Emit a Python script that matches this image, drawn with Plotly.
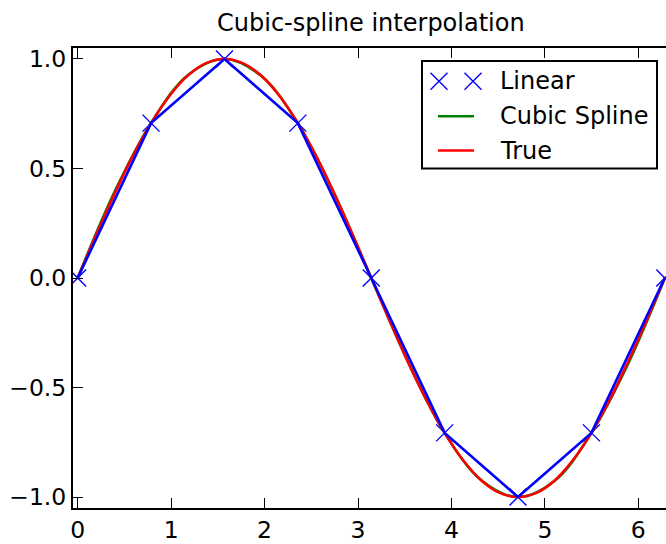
import plotly.graph_objects as go

# Sample nodes (x = 0 .. 2*pi in steps of pi/4) and their sine values
x_nodes = [0.0, 0.785, 1.571, 2.356, 3.142, 3.927, 4.712, 5.498, 6.283]
y_nodes = [0.0, 0.707, 1.0, 0.707, 0.0, -0.707, -1.0, -0.707, 0.0]

# Cubic spline through the nodes, evaluated at nodes and midpoints
x_spline = [0.0, 0.393, 0.785, 1.178, 1.571, 1.963, 2.356, 2.749, 3.142,
            3.534, 3.927, 4.320, 4.712, 5.105, 5.498, 5.890, 6.283]
y_spline = [0.0, 0.392, 0.707, 0.926, 1.0, 0.923, 0.707, 0.382, 0.0,
            -0.382, -0.707, -0.923, -1.0, -0.926, -0.707, -0.392, 0.0]

# True curve sampled every pi/16
x_true = [0.0, 0.196, 0.393, 0.589, 0.785, 0.982, 1.178, 1.374, 1.571,
          1.767, 1.963, 2.160, 2.356, 2.553, 2.749, 2.945, 3.142,
          3.338, 3.534, 3.731, 3.927, 4.123, 4.320, 4.516, 4.712,
          4.909, 5.105, 5.301, 5.498, 5.694, 5.890, 6.087, 6.283]
y_true = [0.0, 0.195, 0.383, 0.556, 0.707, 0.831, 0.924, 0.981, 1.0,
          0.981, 0.924, 0.831, 0.707, 0.556, 0.383, 0.195, 0.0,
          -0.195, -0.383, -0.556, -0.707, -0.831, -0.924, -0.981, -1.0,
          -0.981, -0.924, -0.831, -0.707, -0.556, -0.383, -0.195, 0.0]

x_ticks = [0, 1, 2, 3, 4, 5, 6]
y_ticks = [-1.0, -0.5, 0.0, 0.5, 1.0]
legend_labels = ["Linear", "Cubic Spline", "True"]

BLUE, GREEN, RED = "#0000ff", "#008000", "#ff0000"
FONT = "DejaVu Sans"
W, H = 666, 544
L, R, T, B = 73, 666, 48, 510

X_MARK = dict(symbol="x-thin", size=17, color=BLUE,
              line=dict(color=BLUE, width=1.4))


def px(x):
    return (x - L) / (R - L)


def py(y):
    return (B - y) / (B - T)


fig = go.Figure()

fig.add_trace(go.Scatter(x=x_nodes, y=y_nodes, mode="markers",
                         marker=X_MARK, showlegend=False))
fig.add_trace(go.Scatter(x=x_spline, y=y_spline, mode="lines",
                         line=dict(color=GREEN, width=2.6, shape="spline"),
                         showlegend=False))
fig.add_trace(go.Scatter(x=x_true, y=y_true, mode="lines",
                         line=dict(color=RED, width=2.6, shape="spline"),
                         showlegend=False))
fig.add_trace(go.Scatter(x=x_nodes, y=y_nodes, mode="lines",
                         line=dict(color=BLUE, width=2.6),
                         showlegend=False))

# Legend keys drawn on a pixel-scaled overlay axis
fig.add_trace(go.Scatter(x=[439, 473], y=[81.5, 81.5], mode="markers",
                         xaxis="x2", yaxis="y3", marker=X_MARK,
                         showlegend=False, cliponaxis=False, hoverinfo="skip"))

shapes = [
    dict(type="rect", xref="paper", yref="paper",
         x0=px(422), x1=px(657), y0=py(169), y1=py(61),
         line=dict(color="black", width=2), fillcolor="white", layer="below"),
    dict(type="line", xref="paper", yref="paper",
         x0=px(438), x1=px(474), y0=py(116.5), y1=py(116.5),
         line=dict(color=GREEN, width=2.6), layer="above"),
    dict(type="line", xref="paper", yref="paper",
         x0=px(438), x1=px(474), y0=py(151), y1=py(151),
         line=dict(color=RED, width=2.6), layer="above"),
]

annotations = []
for label, yy in zip(legend_labels, [81.5, 116.5, 151]):
    annotations.append(dict(xref="paper", yref="paper", x=px(498), y=py(yy),
                            xanchor="left", yanchor="middle", text=label,
                            showarrow=False,
                            font=dict(family=FONT, size=24, color="black")))

axis_common = dict(ticks="inside", ticklen=10, tickwidth=1.2, tickcolor="black",
                   showgrid=False, zeroline=False,
                   tickfont=dict(family=FONT, size=23.5, color="black"))

fig.update_layout(
    width=W, height=H,
    margin=dict(l=L, r=W - R, t=T, b=H - B),
    paper_bgcolor="white", plot_bgcolor="white",
    title=dict(text="Cubic-spline interpolation", x=((L + 668.7) / 2) / W,
               xanchor="center", y=1 - 22.5 / H, yanchor="middle",
               font=dict(family=FONT, size=24, color="black")),
    xaxis=dict(range=[-0.05, 6.296], tickvals=x_ticks, showline=True,
               linecolor="black", linewidth=2, mirror="ticks", **axis_common),
    yaxis=dict(range=[-1.05, 1.05], tickvals=y_ticks, tickformat=".1f",
               showline=True, linecolor="black", linewidth=2, mirror=False,
               **axis_common),
    yaxis2=dict(range=[-1.05, 1.05], tickvals=y_ticks, overlaying="y",
                side="right", showticklabels=False, showline=False,
                ticks="inside", ticklen=10, tickwidth=1.2, tickcolor="black",
                showgrid=False, zeroline=False),
    xaxis2=dict(range=[L, R], overlaying="x", visible=False),
    yaxis3=dict(range=[B, T], overlaying="y", visible=False),
    shapes=shapes,
    annotations=annotations,
    showlegend=False,
)

fig.write_html("out.html")
